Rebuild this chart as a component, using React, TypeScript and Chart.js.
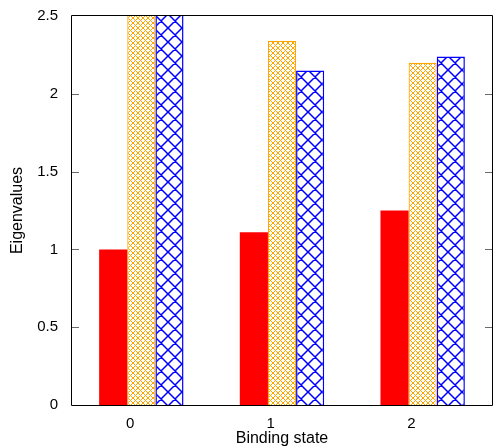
import React, { useEffect, useRef } from 'react';
import { Chart, registerables } from 'chart.js';

Chart.register(...registerables);

const categories: string[] = ['0', '1', '2'];
const seriesRed: number[] = [1.0, 1.11, 1.25];
const seriesOrange: number[] = [2.8, 2.34, 2.2];
const seriesBlue: number[] = [2.8, 2.15, 2.24];
const yTicks: number[] = [0, 0.5, 1, 1.5, 2, 2.5];

const FAMILY = '"Liberation Sans", Arial, sans-serif';
const TICK_FONT = { family: FAMILY, size: 15 };
const TITLE_FONT = { family: FAMILY, size: 16 };

function makeHatch(color: string, period: number, lineWidth: number) {
  const c = document.createElement('canvas');
  c.width = period;
  c.height = period;
  const ctx = c.getContext('2d')!;
  ctx.fillStyle = '#ffffff';
  ctx.fillRect(0, 0, period, period);
  ctx.strokeStyle = color;
  ctx.lineWidth = lineWidth;
  ctx.beginPath();
  for (let k = -1; k <= 1; k++) {
    ctx.moveTo(k * period - 1, -1);
    ctx.lineTo(k * period + period + 1, period + 1);
    ctx.moveTo(k * period - 1, period + 1);
    ctx.lineTo(k * period + period + 1, -1);
  }
  ctx.stroke();
  return ctx.createPattern(c, 'repeat');
}

function makePixelHatch(color: string, period: number) {
  const c = document.createElement('canvas');
  c.width = period;
  c.height = period;
  const ctx = c.getContext('2d')!;
  ctx.fillStyle = '#ffffff';
  ctx.fillRect(0, 0, period, period);
  ctx.fillStyle = color;
  for (let x = 0; x < period; x++) {
    for (let y = 0; y < period; y++) {
      if ((x + y) % period === 0 || (x - y + period) % period === 0) {
        ctx.fillRect(x, y, 1, 1);
      }
    }
  }
  return ctx.createPattern(c, 'repeat');
}

const framePlugin = {
  id: 'gnuFrame',
  afterDatasetsDraw(chart: any) {
    const { ctx, chartArea } = chart;
    const { left, right, top, bottom } = chartArea;
    const ys = chart.scales.y;
    ctx.save();
    ctx.lineWidth = 1;
    ctx.strokeStyle = '#6b6b6b';
    ctx.beginPath();
    yTicks.forEach((v) => {
      if (v === 0 || v === 2.5) return;
      const y = Math.round(ys.getPixelForValue(v)) + 0.5;
      ctx.moveTo(left + 1, y);
      ctx.lineTo(left + 8, y);
      ctx.moveTo(right - 8, y);
      ctx.lineTo(right - 1, y);
    });
    ctx.stroke();
    ctx.strokeStyle = '#000000';
    ctx.beginPath();
    ctx.rect(left + 0.5, top - 0.5, right - left - 1, bottom - top + 1);
    ctx.stroke();
    ctx.restore();
  },
};

export default function App() {
  const ref = useRef<HTMLCanvasElement | null>(null);

  useEffect(() => {
    const canvas = ref.current;
    if (!canvas) return;
    const orangePattern = makePixelHatch('#ffa500', 5);
    const bluePattern = makeHatch('#0000ff', 14, 1.5);
    const chart = new Chart(canvas, {
      type: 'bar',
      data: {
        labels: categories,
        datasets: [
          {
            label: 'A',
            data: seriesRed,
            backgroundColor: '#ff0000',
            borderWidth: 0,
            xAxisID: 'x',
            yAxisID: 'y',
            clip: 0,
          },
          {
            label: 'B',
            data: seriesOrange,
            backgroundColor: orangePattern as any,
            borderColor: '#ffa500',
            borderWidth: 1.2,
            xAxisID: 'x',
            yAxisID: 'y',
            clip: 0,
          },
          {
            label: 'C',
            data: seriesBlue,
            backgroundColor: bluePattern as any,
            borderColor: '#0000ff',
            borderWidth: 1.5,
            xAxisID: 'x',
            yAxisID: 'y',
            clip: 0,
          },
        ],
      },
      options: {
        responsive: false,
        animation: false,
        layout: { padding: { top: 16, right: 0, left: 0, bottom: 0 } },
        plugins: {
          legend: { display: false },
          tooltip: { enabled: false },
        },
        datasets: {
          bar: { categoryPercentage: 0.6, barPercentage: 1.0 },
        },
        scales: {
          x: {
            type: 'category',
            display: false,
            offset: true,
          },
          xt: {
            type: 'linear',
            position: 'bottom',
            offset: false,
            min: -0.42,
            max: 2.58,
            afterBuildTicks: (s: any) => {
              s.ticks = categories.map((_, i) => ({ value: i }));
            },
            ticks: {
              callback: (v: any) => categories[v] ?? '',
              padding: 10,
              font: TICK_FONT,
              color: '#000000',
              maxRotation: 0,
              autoSkip: false,
            },
            grid: { display: false, drawTicks: false, offset: false },
            border: { display: false },
            title: {
              display: true,
              text: 'Binding state',
              font: TITLE_FONT,
              color: '#000000',
              padding: { top: 0, bottom: -1 },
            },
            afterFit: (s: any) => {
              s.height = 42;
            },
          },
          y: {
            type: 'linear',
            min: 0,
            max: 2.5,
            afterBuildTicks: (s: any) => {
              s.ticks = yTicks.map((v) => ({ value: v }));
            },
            ticks: {
              padding: 0,
              font: TICK_FONT,
              color: '#000000',
              callback: (v: any) => String(v),
            },
            grid: { display: false, drawTicks: true, tickLength: 13 },
            border: { display: false },
            title: {
              display: true,
              text: 'Eigenvalues',
              font: TITLE_FONT,
              color: '#000000',
              padding: { top: 8, bottom: 0 },
            },
            afterFit: (s: any) => {
              s.width = 71;
            },
          },
        },
      } as any,
      plugins: [framePlugin],
    });
    return () => chart.destroy();
  }, []);

  return (
    <div style={{ position: 'fixed', left: 0, top: 0, width: 493, height: 447, background: '#fff' }}>
      <canvas ref={ref} width={493} height={447} style={{ width: 493, height: 447, display: 'block' }} />
    </div>
  );
}
